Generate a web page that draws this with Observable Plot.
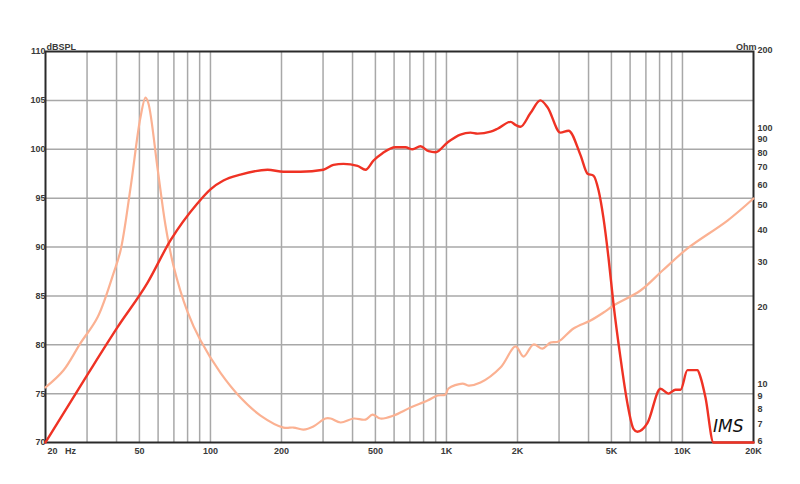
<!DOCTYPE html>
<html>
<head>
<meta charset="utf-8">
<script src="https://cdn.jsdelivr.net/npm/d3@7"></script>
<script src="https://cdn.jsdelivr.net/npm/@observablehq/plot@0.6"></script>
<style>
  html, body { margin: 0; padding: 0; background: #fff; }
  #chart { position: relative; width: 800px; height: 484px; }
  #chart svg { position: absolute; left: 0; top: 0; }
</style>
</head>
<body>
<div id="chart"></div>
<script>
// SPL response (dB)
const splFreq = [20, 30.4, 40.4, 54, 67.8, 88, 100, 113.5, 134, 174.6, 204, 241, 301, 332, 366, 420, 454, 491, 536, 608, 670, 718, 776, 840, 899, 1010, 1146, 1264, 1354, 1538, 1646, 1869, 1960, 2060, 2270, 2500, 2680, 3040, 3290, 3698, 3962, 4198, 4410, 4624, 4860, 5100, 5460, 5845, 6200, 6440, 7110, 8070, 8720, 9340, 9820, 10500, 11580, 11920, 12520, 13540, 20000];
const splDb   = [70, 77.1, 81.8, 86.3, 90.7, 94.45, 95.9, 96.8, 97.4, 97.9, 97.7, 97.7, 97.9, 98.4, 98.5, 98.3, 97.9, 98.85, 99.6, 100.2, 100.2, 100.0, 100.3, 99.8, 99.7, 100.7, 101.5, 101.7, 101.6, 101.8, 102.1, 102.8, 102.5, 102.3, 103.7, 105.0, 104.3, 101.7, 101.9, 99.4, 97.5, 97.3, 95.8, 93.0, 88.9, 84.2, 78.7, 74.0, 71.4, 71.1, 72.0, 75.5, 75.0, 75.4, 75.4, 77.4, 77.4, 76.7, 74.6, 70, 70];

// Impedance (Ohm)
const zFreq = [20, 23.8, 28.1, 33.2, 38.8, 41.6, 45.8, 50.5, 53.1, 54.6, 59.7, 64.5, 69.7, 79.9, 90.7, 110.3, 134, 163, 204, 225, 248, 273, 307, 323, 356, 404, 454, 486, 525, 597, 704, 831, 916, 990, 1020, 1170, 1240, 1394, 1694, 1962, 2121, 2338, 2553, 2760, 2984, 3454, 4078, 4628, 5104, 6640, 8232, 10504, 15520, 20000];
const zOhm  = [9.83, 11.44, 14.6, 18.4, 27.3, 33.6, 58.5, 110.7, 132.4, 125.5, 70.0, 42.0, 29.3, 19.4, 15.0, 11.2, 8.98, 7.64, 6.86, 6.86, 6.74, 6.93, 7.44, 7.44, 7.18, 7.44, 7.37, 7.71, 7.44, 7.64, 8.21, 8.74, 9.14, 9.22, 9.74, 10.18, 10.0, 10.27, 11.75, 14.2, 12.97, 14.45, 13.93, 14.7, 14.84, 16.68, 17.92, 19.25, 20.5, 23.45, 28.05, 34.2, 43.9, 53.5];

// Axes / grid
const xTicks = [50, 100, 200, 500, 1000, 2000, 5000, 10000, 20000];
const xTickLabels = ["50", "100", "200", "500", "1K", "2K", "5K", "10K", "20K"];
const gridFreqs = [30, 40, 50, 60, 70, 80, 90, 100, 200, 300, 400, 500, 600, 700, 800, 900, 1000, 2000, 3000, 4000, 5000, 6000, 7000, 8000, 9000, 10000];
const dbTicks = [70, 75, 80, 85, 90, 95, 100, 105, 110];
const dbGrid = [75, 80, 85, 90, 95, 100, 105];
const ohmTicks = [6, 7, 8, 9, 10, 20, 30, 40, 50, 60, 70, 80, 90, 100, 200];

const splData = splFreq.map((f, i) => ({f, db: splDb[i]}));
const zData = zFreq.map((f, i) => ({f, ohm: zOhm[i]}));
const xLabelMap = new Map(xTicks.map((t, i) => [t, xTickLabels[i]]));

const FONT = "'Liberation Sans', Arial, sans-serif";
const common = {
  width: 800, height: 484,
  marginLeft: 45, marginRight: 47, marginTop: 51, marginBottom: 42,
  style: {background: "transparent", fontFamily: FONT, fontSize: "9px", fontWeight: "bold", color: "#3a3a3a", overflow: "visible"}
};
const xScale = {type: "log", domain: [20, 20000]};

// Layer 1: grid, frame, left + bottom axes
const p1 = Plot.plot({
  ...common,
  x: {...xScale, axis: null},
  y: {domain: [70, 110], axis: null},
  marks: [
    Plot.ruleX(gridFreqs, {stroke: "#a8a8a8", strokeWidth: 1.5}),
    Plot.ruleY(dbGrid, {stroke: "#a8a8a8", strokeWidth: 1.5}),
    Plot.frame({stroke: "#2a2a2a", strokeWidth: 2}),
    Plot.text(dbTicks, {y: d => d, text: d => String(d), frameAnchor: "left", dx: 0, textAnchor: "end", fill: "#3a3a3a"}),
    Plot.text(xTicks, {x: d => d, text: d => xLabelMap.get(d), frameAnchor: "bottom", dy: 11, fill: "#3a3a3a"}),
    Plot.text(["20   Hz"], {frameAnchor: "bottom-left", dy: 11, dx: 2, textAnchor: "start", fill: "#3a3a3a"}),
    Plot.text(["dBSPL"], {frameAnchor: "top-left", dy: -8, dx: 1, textAnchor: "start", fill: "#3a3a3a"}),
    Plot.text(["IMS"], {frameAnchor: "bottom-right", dx: -10, dy: -11, textAnchor: "end", fontSize: 17, fontStyle: "italic", fontWeight: "normal", fontFamily: "'DejaVu Sans', sans-serif", fill: "#111"})
  ]
});

// Layer 2: impedance on log Ohm scale, right axis
const p2 = Plot.plot({
  ...common,
  x: {...xScale, axis: null},
  y: {type: "log", domain: [6, 200], axis: null},
  marks: [
    Plot.line(zData, {x: "f", y: "ohm", stroke: "#fbb192", strokeWidth: 2.2, curve: "catmull-rom"}),
    Plot.text(ohmTicks, {y: d => d, text: d => String(d), frameAnchor: "right", dx: 4, dy: -1, textAnchor: "start", fill: "#3a3a3a"}),
    Plot.text(["Ohm"], {frameAnchor: "top-right", dy: -8, dx: 3, textAnchor: "end", fill: "#3a3a3a"})
  ]
});

// Layer 3: SPL curve on top
const p3 = Plot.plot({
  ...common,
  x: {...xScale, axis: null},
  y: {domain: [70, 110], axis: null},
  marks: [
    Plot.line(splData, {x: "f", y: "db", stroke: "#ef3224", strokeWidth: 2.4, curve: "monotone-x"})
  ]
});

const chart = document.getElementById("chart");
chart.append(p1, p2, p3);
</script>
</body>
</html>
